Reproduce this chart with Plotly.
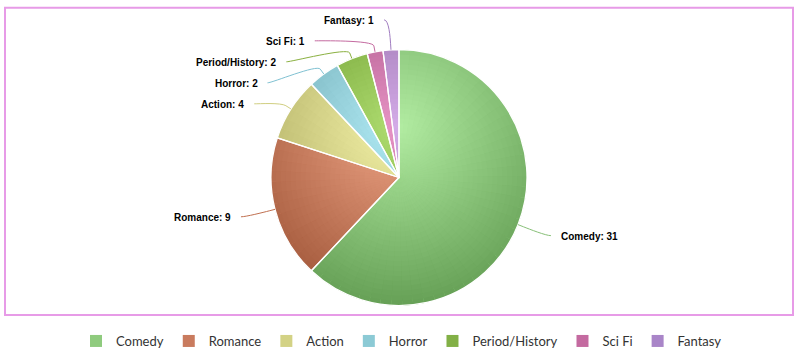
import math
import plotly.graph_objects as go

# ---- data ----
categories = ["Comedy", "Romance", "Action", "Horror", "Period/History", "Sci Fi", "Fantasy"]
counts = [31, 9, 4, 2, 2, 1, 1]

# ---- styles ----
base_rgb = [(178, 236, 162), (240, 166, 136), (246, 244, 170), (178, 236, 246),
            (176, 222, 114), (232, 148, 198), (212, 172, 232)]
legend_colors = ["#8fcb7e", "#c97b5e", "#d3d285", "#8ccad5", "#82b046", "#c46aa0", "#a985c8"]
connector_colors = ["#88c078", "#c07050", "#d0ce80", "#7fc1d2", "#8ab040", "#c46aa0", "#a07cc0"]

W, H = 803, 359
CX, CY, R = 399.0, 177.5, 128.0
GX, GY, RHO = CX, CY - R + 0.3 * 2 * R, 0.7 * 2 * R   # radial gradient (pie-relative)
DARK = 76
N_RINGS = 26
STEP_DEG = 5.0
LABEL_DIST = 30
SLOT = 21


def px(x):
    return x / W


def py(y):
    return 1 - y / H


def dom(r):
    return dict(x=[(CX - r) / W, (CX + r) / W], y=[(H - (CY + r)) / H, (H - (CY - r)) / H])


total = float(sum(counts))
extents = [c / total * 360.0 for c in counts]
starts = []
acc = 0.0
for e in extents:
    starts.append(acc)
    acc += e

fig = go.Figure()

# legend / base pie
fig.add_trace(go.Pie(labels=categories, values=counts, sort=False, direction="clockwise",
                     marker=dict(colors=legend_colors, line=dict(width=0)),
                     textinfo="none", hoverinfo="skip", domain=dom(R), showlegend=True))

# gradient rings
for k in range(N_RINGS):
    r_out = R * (N_RINGS - k) / N_RINGS
    r_in = R * (N_RINGS - k - 1) / N_RINGS
    r_eval = (r_out + r_in) / 2
    vals, cols = [], []
    for s, c in enumerate(counts):
        m = max(1, int(round(extents[s] / STEP_DEG)))
        for j in range(m):
            th = math.radians(starts[s] + (j + 0.5) * extents[s] / m)
            x = CX + r_eval * math.sin(th)
            y = CY - r_eval * math.cos(th)
            t = min(1.0, math.hypot(x - GX, y - GY) / RHO)
            rgb = [max(0, int(round(v - DARK * t))) for v in base_rgb[s]]
            vals.append(c / m)
            cols.append("rgb(%d,%d,%d)" % tuple(rgb))
    fig.add_trace(go.Pie(values=vals, sort=False, direction="clockwise",
                         marker=dict(colors=cols, line=dict(width=0)),
                         textinfo="none", hoverinfo="skip", domain=dom(r_out), showlegend=False))

# white separators
fig.add_trace(go.Pie(labels=categories, values=counts, sort=False, direction="clockwise",
                     marker=dict(colors=["rgba(0,0,0,0)"] * len(counts), line=dict(color="white", width=1.3)),
                     textinfo="none", hovertemplate="%{label}: %{value}<extra></extra>",
                     domain=dom(R), showlegend=False))

# ---- data labels with soft connectors ----
RL = R + LABEL_DIST
items = []
for s, c in enumerate(counts):
    mid = starts[s] + extents[s] / 2
    th = math.radians(mid)
    dx, dy = math.sin(th), -math.cos(th)
    side = 1 if dx >= 0 else -1
    items.append(dict(s=s, dx=dx, dy=dy, side=side, y=CY + RL * dy))

shapes = []
annotations = []
for side in (-1, 1):
    grp = sorted([it for it in items if it["side"] == side], key=lambda it: it["y"])
    prev = None
    for it in grp:
        y = it["y"]
        if prev is not None:
            y = max(y, prev + SLOT)
        y = max(y, 19.8)
        it["ly"] = y
        prev = y

for it in items:
    s, side, y = it["s"], it["side"], it["ly"]
    ddy = max(-RL, min(RL, y - CY))
    gx = CX + side * math.sqrt(max(0.0, RL ** 2 - ddy ** 2))
    xe = gx + side * 5
    ex, ey = CX + R * it["dx"], CY + R * it["dy"]
    bx, by = CX + (R + 6) * it["dx"], CY + (R + 6) * it["dy"]
    c2x, c2y = 2 * bx - ex, 2 * by - ey
    path = "M %.4f %.4f C %.4f %.4f %.4f %.4f %.4f %.4f L %.4f %.4f" % (
        px(xe), py(y), px(xe - side * 5), py(y), px(c2x), py(c2y), px(bx), py(by), px(ex), py(ey))
    shapes.append(dict(type="path", path=path, xref="paper", yref="paper",
                       line=dict(color=connector_colors[s], width=1), layer="above"))
    annotations.append(dict(text="<b>%s: %d</b>" % (categories[s], counts[s]),
                            x=px(xe + side * 8), y=py(y + 1), xref="paper", yref="paper",
                            xanchor="left" if side > 0 else "right", yanchor="middle",
                            showarrow=False,
                            font=dict(family="Liberation Sans, Arial, sans-serif", size=10, color="#000000")))

# plot border
shapes.append(dict(type="rect", xref="paper", yref="paper", x0=px(5), x1=px(793), y0=py(315), y1=py(7.7),
                   line=dict(color="#e79be7", width=2), fillcolor="rgba(0,0,0,0)", layer="below"))

fig.update_layout(
    width=W, height=H,
    margin=dict(l=0, r=0, t=0, b=0),
    paper_bgcolor="white", plot_bgcolor="white",
    shapes=shapes, annotations=annotations,
    legend=dict(orientation="h", x=0.5, xanchor="center", y=py(341), yanchor="middle",
                font=dict(family="Lato, Open Sans, sans-serif", size=13, color="#333333"),
                itemclick=False, itemdoubleclick=False),
)

fig.write_html("out.html", config={"displayModeBar": False},
               post_script="document.body.style.margin='0';document.body.style.overflow='hidden';")
